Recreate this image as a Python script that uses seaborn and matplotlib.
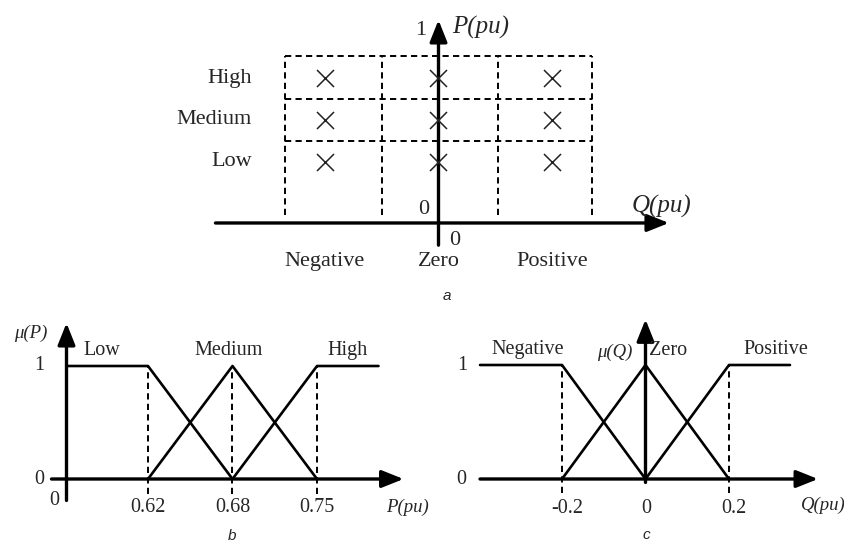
import numpy as np
import pandas as pd
import matplotlib
matplotlib.use("Agg")
import matplotlib.pyplot as plt
import seaborn as sns

sns.set_theme(style="white")
plt.rcParams["font.family"] = ["Liberation Serif", "DejaVu Serif"]

# ---------------- data ----------------
# (a) fuzzy rule grid: active-power levels x reactive-power levels
p_levels = ["Low", "Medium", "High"]
q_levels = ["Negative", "Zero", "Positive"]
rule_cells = [(q, p) for p in p_levels for q in q_levels]

# (b) membership functions of P (pu)
p_breaks = [0.62, 0.68, 0.75]
p_tick_labels = ["0.62", "0.68", "0.75"]
p_sets = ["Low", "Medium", "High"]

# (c) membership functions of Q (pu)
q_breaks = [-0.2, 0.0, 0.2]
q_tick_labels = ["-0.2", "0", "0.2"]
q_sets = ["Negative", "Zero", "Positive"]

W, H = 845, 545
fig = plt.figure(figsize=(W / 100, H / 100), dpi=100)
fig.patch.set_facecolor("white")

INK = "black"
DASH = (0, (3.2, 2.2))


def make_axes(box, xanchor, yanchor, xfun=None):
    """Axes occupying a pixel box (l, t, r, b); anchors map pixel -> value."""
    l, t, r, b = box
    ax = fig.add_axes([l / W, 1 - b / H, (r - l) / W, (b - t) / H])
    (px1, v1), (px2, v2) = xanchor
    if xfun is not None:
        fwd, inv = xfun
        u1, u2 = fwd(np.array(v1)), fwd(np.array(v2))
        k = (u2 - u1) / (px2 - px1)
        ax.set_xscale("function", functions=(fwd, inv))
        ax.set_xlim(float(inv(u1 + (l - px1) * k)), float(inv(u1 + (r - px1) * k)))
    else:
        k = (v2 - v1) / (px2 - px1)
        ax.set_xlim(v1 + (l - px1) * k, v1 + (r - px1) * k)
    (py1, w1), (py2, w2) = yanchor
    ky = (w2 - w1) / (py2 - py1)
    ax.set_ylim(w1 + (b - py1) * ky, w1 + (t - py1) * ky)
    ax.axis("off")
    ax.patch.set_alpha(0)
    return ax


def arrow(ax, start, tip, lw=2.4, ms=22):
    ax.annotate("", xy=tip, xytext=start,
                arrowprops=dict(arrowstyle="-|>,head_length=0.6,head_width=0.24",
                                lw=lw, color=INK, mutation_scale=ms,
                                shrinkA=0, shrinkB=0),
                annotation_clip=False)


def panel_letter(x, y, s):
    fig.text(x / W, 1 - y / H, s, ha="center", va="center", fontsize=11,
             style="italic", family="Liberation Sans")


# ================= (a) rule grid =================
axa = make_axes((190, 0, 700, 300), ((325, -1), (552, 1)), ((162, 1), (78, 3)))
col_pos = {q: i - 1 for i, q in enumerate(q_levels)}
row_pos = {p: i + 1 for i, p in enumerate(p_levels)}

grid_x = [-1.35, -0.495, 0.525, 1.355]
grid_top, grid_bot = 3.52, -0.26
for gx in grid_x:
    axa.plot([gx, gx], [grid_bot, grid_top], color=INK, lw=1.4, ls=DASH)
for gy in [1.5, 2.5, 3.52]:
    axa.plot([grid_x[0], grid_x[-1]], [gy, gy], color=INK, lw=1.4, ls=DASH)

# coordinate axes of the P-Q plane
axis_y = -0.452
arrow(axa, (-1.965, axis_y), (2.03, axis_y))
arrow(axa, (0, -0.98), (0, 4.38))

cells = pd.DataFrame(rule_cells, columns=["Q", "P"])
cells["x"] = cells["Q"].map(col_pos)
cells["y"] = cells["P"].map(row_pos)
sns.scatterplot(data=cells, x="x", y="y", marker="x", s=150, color="#222222",
                linewidth=1.1, ax=axa, legend=False, zorder=5)

for p, r in row_pos.items():
    axa.text(-1.645, r, p, ha="right", va="center", fontsize=16)
for q, c in col_pos.items():
    axa.text(c, -1.36, q, ha="center", va="center", fontsize=16)

axa.text(-0.13, -0.12, "0", ha="center", va="center", fontsize=16)
axa.text(0.145, -0.86, "0", ha="center", va="center", fontsize=16)
axa.text(-0.155, 4.14, "1", ha="center", va="center", fontsize=16)
axa.text(0.12, 4.2, "P(pu)", ha="left", va="center", fontsize=18, style="italic")
axa.text(1.70, -0.05, "Q(pu)", ha="left", va="center", fontsize=18, style="italic")
panel_letter(447, 296, "a")


# ================= (b) membership of P =================
def p_fwd(x):
    x = np.asarray(x, dtype=float)
    return np.where(x < p_breaks[1], (x - p_breaks[1]) / (p_breaks[1] - p_breaks[0]),
                    (x - p_breaks[1]) / (p_breaks[2] - p_breaks[1]))


def p_inv(u):
    u = np.asarray(u, dtype=float)
    return np.where(u < 0, p_breaks[1] + u * (p_breaks[1] - p_breaks[0]),
                    p_breaks[1] + u * (p_breaks[2] - p_breaks[1]))


axb = make_axes((0, 300, 420, 545), ((148, p_breaks[0]), (317, p_breaks[2])),
                ((479, 0), (366, 1)), xfun=(p_fwd, p_inv))


def px_to_p(px):
    u = (px - 233) / 84.5
    return float(p_inv(u))


p_origin = px_to_p(67)
p_right_end = px_to_p(379)
p_axis_left, p_axis_tip = px_to_p(52), px_to_p(404)

for xb in p_breaks:
    axb.plot([xb, xb], [-0.13, 1], color=INK, lw=1.4, ls=DASH)

arrow(axb, (p_axis_left, 0), (p_axis_tip, 0))
arrow(axb, (p_origin, -0.19), (p_origin, 1.38))

lo, md, hi = p_breaks
mf_p = pd.DataFrame({
    "set": ["Low"] * 3 + ["Medium"] * 3 + ["High"] * 3,
    "x": [p_origin, lo, md, lo, md, hi, md, hi, p_right_end],
    "mu": [1, 1, 0, 0, 1, 0, 0, 1, 1],
})
sns.lineplot(data=mf_p, x="x", y="mu", units="set", estimator=None, sort=False,
             color=INK, lw=1.9, ax=axb, legend=False)

for xb, lab in zip(p_breaks, p_tick_labels):
    axb.text(xb, -0.255, lab, ha="center", va="center", fontsize=14.5)
axb.text(px_to_p(40), 1, "1", ha="center", va="center", fontsize=14.5)
axb.text(px_to_p(40), 0, "0", ha="center", va="center", fontsize=14.5)
axb.text(px_to_p(55), -0.19, "0", ha="center", va="center", fontsize=14.5)
axb.text(px_to_p(31), 1.29, "\u03bc(P)", ha="center", va="center", fontsize=13.5,
         style="italic")
axb.text(px_to_p(387), -0.25, "P(pu)", ha="left", va="center", fontsize=13.5,
         style="italic")
for name, xc in zip(p_sets, [px_to_p(102), px_to_p(229), px_to_p(348)]):
    axb.text(xc, 1.14, name, ha="center", va="center", fontsize=14.5)
panel_letter(232, 536, "b")


# ================= (c) membership of Q =================
axc = make_axes((420, 300, 845, 545), ((562, q_breaks[0]), (729, q_breaks[2])),
                ((479, 0), (365, 1)))
kq = (q_breaks[2] - q_breaks[0]) / (729 - 562)


def px_to_q(px):
    return q_breaks[0] + (px - 562) * kq


for xb in (q_breaks[0], q_breaks[2]):
    axc.plot([xb, xb], [-0.12, 1], color=INK, lw=1.4, ls=DASH)

arrow(axc, (px_to_q(480), 0), (px_to_q(818), 0))
arrow(axc, (0, -0.03), (0, 1.4))

ng, ze, ps = q_breaks
mf_q = pd.DataFrame({
    "set": ["Negative"] * 3 + ["Zero"] * 3 + ["Positive"] * 3,
    "x": [px_to_q(480), ng, ze, ng, ze, ps, ze, ps, px_to_q(790)],
    "mu": [1, 1, 0, 0, 1, 0, 0, 1, 1],
})
sns.lineplot(data=mf_q, x="x", y="mu", units="set", estimator=None, sort=False,
             color=INK, lw=1.9, ax=axc, legend=False)

for xb, lab, xo in zip(q_breaks, q_tick_labels, [567, 646, 734]):
    axc.text(px_to_q(xo), -0.255, lab, ha="center", va="center", fontsize=14.5)
axc.text(px_to_q(462), 1, "1", ha="center", va="center", fontsize=14.5)
axc.text(px_to_q(461), 0, "0", ha="center", va="center", fontsize=14.5)
axc.text(px_to_q(615), 1.11, "\u03bc(Q)", ha="center", va="center", fontsize=13.5,
         style="italic")
axc.text(px_to_q(801), -0.23, "Q(pu)", ha="left", va="center", fontsize=13.5,
         style="italic")
axc.text(px_to_q(528), 1.14, q_sets[0], ha="center", va="center", fontsize=14.5)
axc.text(px_to_q(649), 1.13, q_sets[1], ha="left", va="center", fontsize=14.5)
axc.text(px_to_q(776), 1.14, q_sets[2], ha="center", va="center", fontsize=14.5)
panel_letter(646, 535, "c")

fig.savefig("out.png", dpi=100, facecolor="white")
